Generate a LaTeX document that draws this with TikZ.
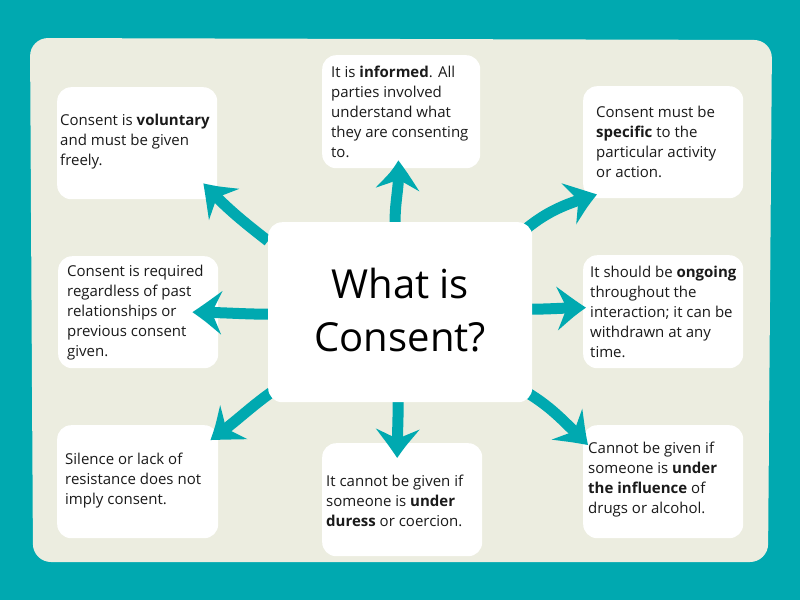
\documentclass[tikz,border=0pt]{standalone}
\usepackage{fontspec}
\setmainfont{Open Sans}
\usetikzlibrary{arrows.meta,bending,calc}
\definecolor{teal1}{HTML}{00A9B0}
\definecolor{panel}{HTML}{ECEDE0}
\definecolor{ink}{HTML}{1A1A1A}
\pgfdeclarelayer{front}
\pgfsetlayers{main,front}
\begin{document}
\begin{tikzpicture}[x=1pt,y=1pt,
  box/.style={fill=white, rounded corners=14pt, minimum width=160pt, minimum height=112pt, anchor=north west, inner sep=0pt},
  txt/.style={anchor=west, align=left, inner sep=0pt, text=ink, font=\fontsize{15}{20}\selectfont},
  arr/.style={draw=teal1, line width=11pt, -{Stealth[length=31pt,width=42pt,inset=11pt,bend]}},
]
\fill[teal1] (0,0) rectangle (800,-600);
\useasboundingbox (0,0) rectangle (800,-600);
\fill[panel, rounded corners=18pt] (30,-38) -- (772,-40) -- (768,-562) -- (33,-562) -- cycle;

\begin{pgfonlayer}{front}
\node[box, minimum width=264pt, minimum height=180pt] (c) at (268,-222) {};
\node[align=center, inner sep=0pt, font=\fontsize{40}{53}\selectfont, text=black] (ct) at ($(c.center)+(0,2)$) {What is\\Consent?};
\end{pgfonlayer}

\node[box] (vol) at (57,-87) {};
\node[txt] (volt) at ($(vol.west)+(3,2)$) {Consent is \textbf{voluntary}\\and must be given\\freely.};

\node[box, minimum width=158pt, minimum height=113pt] (inf) at (322,-55) {};
\node[txt] (inft) at ($(inf.west)+(9,0)$) {It is \textbf{informed}. All\\parties involved\\understand what\\they are consenting\\to.};

\node[box] (spe) at (583,-86) {};
\node[txt] (spet) at ($(spe.west)+(13,0)$) {Consent must be\\\textbf{specific} to the\\particular activity\\or action.};

\node[box] (pas) at (58,-256) {};
\node[txt] (past) at ($(pas.west)+(9,0)$) {Consent is required\\regardless of past\\relationships or\\previous consent\\given.};

\node[box, minimum height=113pt] (ong) at (583,-255) {};
\node[txt] (ongt) at ($(ong.west)+(7,0)$) {It should be \textbf{ongoing}\\throughout the\\interaction; it can be\\withdrawn at any\\time.};

\node[box, minimum width=161pt, minimum height=113pt] (sil) at (57,-425) {};
\node[txt] (silt) at ($(sil.west)+(8,1)$) {Silence or lack of\\resistance does not\\imply consent.};

\node[box, minimum height=113pt] (dur) at (322,-443) {};
\node[txt] (durt) at ($(dur.west)+(4,-1)$) {It cannot be given if\\someone is \textbf{under}\\\textbf{duress} or coercion.};

\node[box, minimum height=113pt] (infl) at (583,-425) {};
\node[txt] (inflt) at ($(infl.west)+(5,2)$) {Cannot be given if\\someone is \textbf{under}\\\textbf{the influence} of\\drugs or alcohol.};

\draw[arr] ($(c.north west)+(0,-19)$) to[out=142,in=-47] ($(vol.south east)+(-14,16)$);
\draw[arr] ($(c.north)+(-5,-3)$) to[out=92,in=-85] ($(inf.south)+(-3,8)$);
\draw[arr] ($(c.north east)+(-9,-9)$) to[out=40,in=197] ($(spe.south west)+(14,4)$);
\draw[arr] ($(c.east)+(-3,3)$) to[out=0,in=180] ($(ong.west)+(3,4)$);
\draw[arr] ($(c.west)+(3,-2)$) to[out=180,in=0] ($(pas.east)+(-26,0)$);
\draw[arr] ($(c.south west)+(6,12)$) to[out=215,in=35] ($(sil.north east)+(-8,-15)$);
\draw[arr] ($(c.south)+(-2,3)$) to[out=-90,in=90] ($(dur.north)+(-5,-15)$);
\draw[arr] ($(c.south east)+(-9,12)$) to[out=-30,in=136] ($(infl.north west)+(5,-20)$);
\end{tikzpicture}
\end{document}
